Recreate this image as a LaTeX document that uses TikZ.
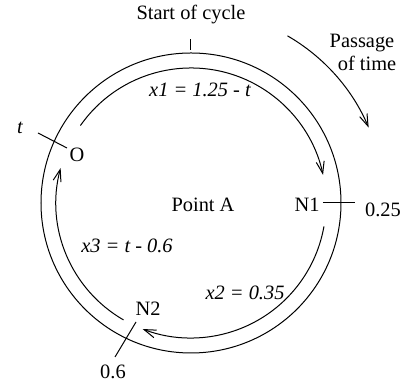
\documentclass[tikz,border=0pt]{standalone}
\usepackage{fontspec}
\setmainfont{Liberation Serif}
\newfontfamily\tnr{Liberation Serif}
\usetikzlibrary{arrows.meta,calc}
\begin{document}
\begin{tikzpicture}[x=0.5pt,y=0.5pt,line width=0.5pt,
  lbl/.style={inner sep=0pt,font=\tnr\fontsize{10.2}{12}\selectfont},
  eq/.style={lbl,font=\tnr\fontsize{10.2}{12}\selectfont\itshape},
  flow/.style={-{Straight Barb[length=6pt,width=4pt]}}]
\useasboundingbox (0,0) rectangle (409,384);
\coordinate (C) at (191,181);
% outer circle
\draw (C) circle[radius=150];
% inner arcs
\draw[flow] ($(C)+(145:135)$) arc[start angle=145,end angle=12,radius=135];
\draw[flow] ($(C)+(-10:135)$) arc[start angle=-10,end angle=-111,radius=135];
\draw[flow] ($(C)+(-120:135)$) arc[start angle=-120,end angle=-195,radius=135];
% passage of time
\draw[flow] ($(C)+(60:193)$) arc[start angle=60,end angle=23,radius=193];
% labels
\node[lbl] (start) at (191,369) {Start of cycle};
\node[lbl] (pass1) at (362,341) {Passage};
\node[lbl] (pass2) at (367,321) {of time};
\node[eq] (x1) at (200,294) {x1 = 1.25 - t};
\node[eq] (t) at (20,256) {t};
\node[lbl] (O) at (77,229) {O};
\node[lbl] (A) at (203,179) {Point A};
\node[lbl] (N1) at (307,179) {N1};
\node[lbl] (v25) at (383,174) {0.25};
\node[eq] (x3) at (127,138) {x3 = t - 0.6};
\node[eq] (x2) at (245,91) {x2 = 0.35};
\node[lbl] (N2) at (148,75) {N2};
\node[lbl] (v6) at (113,12) {0.6};
% ticks
\coordinate (s1) at (191,334);
\coordinate (s2) at (191,345);
\draw (s1) -- (s2);
\coordinate (o1) at (67,236);
\coordinate (o2) at (38,251);
\draw (o1) -- (o2);
\coordinate (n1a) at (323,181);
\coordinate (n1b) at (355,181);
\draw (n1a) -- (n1b);
\coordinate (n2a) at (136,62);
\coordinate (n2b) at (115,27);
\draw (n2a) -- (n2b);
\end{tikzpicture}
\end{document}
